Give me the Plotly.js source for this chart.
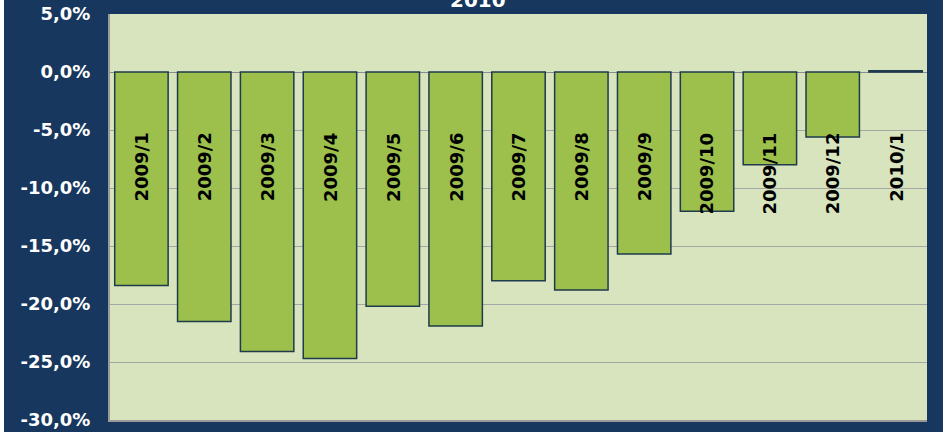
<!DOCTYPE html>
<html>
<head>
<meta charset="utf-8">
<script src="https://cdn.plot.ly/plotly-3.0.1.min.js"></script>
<style>
  html, body { margin: 0; padding: 0; background: #ffffff; }
  #chart { position: absolute; left: 4px; top: 0; width: 939px; height: 432px; }
</style>
</head>
<body>
<div id="chart"></div>
<script>
const categories = ["2009/1","2009/2","2009/3","2009/4","2009/5","2009/6","2009/7","2009/8","2009/9","2009/10","2009/11","2009/12","2010/1"];
const values = [-18.4, -21.5, -24.1, -24.7, -20.2, -21.9, -18.0, -18.8, -15.7, -12.0, -8.0, -5.6, 0.1];
const yTicks = [5, 0, -5, -10, -15, -20, -25, -30];
const yTickLabels = ["5,0%", "0,0%", "-5,0%", "-10,0%", "-15,0%", "-20,0%", "-25,0%", "-30,0%"];
const titleText = "2010";
const labelY = -5.05;

const trace = {
  type: "bar",
  x: categories,
  y: values,
  marker: { color: "#9CC04B", line: { color: "#1E3A4C", width: 1.5 } },
  hoverinfo: "x+y"
};

const annotations = categories.map((c) => ({
  x: c, y: labelY, xref: "x", yref: "y",
  text: c, showarrow: false, textangle: -90,
  xanchor: "center", yanchor: "top",
  font: { family: "DejaVu Sans", size: 18, color: "#000000", weight: "bold" }
}));
annotations.push({
  x: 0.451, y: 1.034, xref: "paper", yref: "paper",
  text: titleText, showarrow: false, xanchor: "center", yanchor: "middle",
  font: { family: "DejaVu Sans", size: 20, color: "#ffffff", weight: "bold" }
});

const layout = {
  width: 939, height: 432,
  paper_bgcolor: "#17375E",
  plot_bgcolor: "#D8E4BD",
  margin: { l: 106, r: 16, t: 14, b: 12, pad: 0 },
  showlegend: false,
  bargap: 0.15,
  xaxis: {
    type: "category", showticklabels: false, ticks: "",
    showline: true, linecolor: "#9A9A9A", linewidth: 2, mirror: false,
    showgrid: false, zeroline: false
  },
  yaxis: {
    range: [-30, 5], tickvals: yTicks, ticktext: yTickLabels,
    showgrid: true, gridcolor: "#A6A6A6", gridwidth: 1,
    zeroline: true, zerolinecolor: "#8C8C8C", zerolinewidth: 1,
    showline: true, linecolor: "#9A9A9A", linewidth: 2, mirror: false,
    ticks: "", ticklabelstandoff: 14,
    tickfont: { family: "DejaVu Sans", size: 18, color: "#ffffff", weight: "bold" }
  },
  annotations: annotations
};

Plotly.newPlot("chart", [trace], layout, { displayModeBar: false, staticPlot: true });
</script>
</body>
</html>
